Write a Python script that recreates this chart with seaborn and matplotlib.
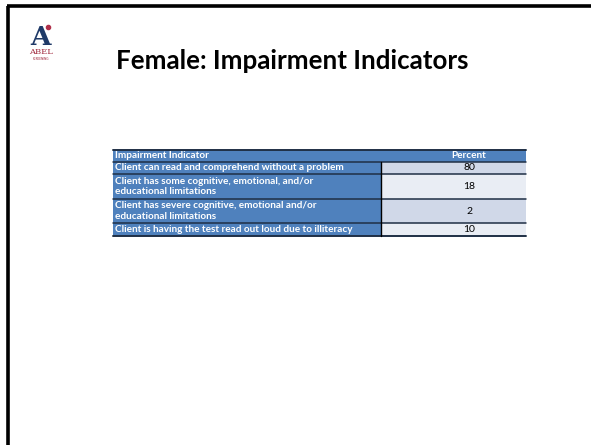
import matplotlib
matplotlib.use("Agg")
import matplotlib.pyplot as plt
from matplotlib.patches import Rectangle
import numpy as np
import seaborn as sns

# ---- data ----
title = "Female: Impairment Indicators"
header = ["Impairment Indicator", "Percent"]
indicators = [
    "Client can read and comprehend without a problem",
    "Client has some cognitive, emotional, and/or\neducational limitations",
    "Client has severe cognitive, emotional and/or\neducational limitations",
    "Client is having the test read out loud due to illiteracy",
]
percent = [80, 18, 2, 10]

sns.set_theme(style="white")
plt.rcParams["font.family"] = ["Lato", "DejaVu Sans"]

W, H = 591, 445
fig = plt.figure(figsize=(W / 100, H / 100), dpi=100)
ax = fig.add_axes([0, 0, 1, 1])
ax.set_xlim(0, W)
ax.set_ylim(H, 0)
ax.axis("off")

# slide frame (top and left edges)
ax.plot([7, W], [6, 6], color="black", lw=2.6, solid_capstyle="butt")
ax.plot([8, 8], [6, H], color="black", lw=2.6, solid_capstyle="butt")

# logo
ax.text(41, 45, "A", fontsize=19, fontweight="bold", family="DejaVu Serif",
        color="#1f3a68", ha="center", va="baseline")
ax.plot([48], [27], "o", color="#b0304a", ms=3)
ax.text(41, 52.5, "ABEL", fontsize=6, family="DejaVu Serif", color="#a0283c",
        ha="center", va="center")
ax.text(41, 59, "SCREENING", fontsize=2.2, color="#a0283c", ha="center", va="center")

# title
ax.text(116, 61, title, fontsize=18.6, fontweight="bold", color="black",
        ha="left", va="center")

# table layout
x0, xs, x1 = 113, 381, 526
y0 = 149.5
unit = 12.3
lines = [1] + [s.count("\n") + 1 for s in indicators]
heights = np.array(lines) * unit
tops = y0 + np.concatenate([[0], np.cumsum(heights)[:-1]])

blue = "#4f81bd"
val_cols = ["#d0d8e8", "#e9edf4", "#d0d8e8", "#e9edf4"]
fs = 7.2

for i, (top, h) in enumerate(zip(tops, heights)):
    if i == 0:
        ax.add_patch(Rectangle((x0, top), x1 - x0, h, fc=blue, ec="none"))
        ax.text(x0 + 2, top + h / 2, header[0], fontsize=fs, fontweight="bold",
                color="white", ha="left", va="center")
        ax.text(469, top + h / 2, header[1], fontsize=fs, fontweight="bold",
                color="white", ha="center", va="center")
    else:
        ax.add_patch(Rectangle((x0, top), xs - x0, h, fc=blue, ec="none"))
        ax.add_patch(Rectangle((xs, top), x1 - xs, h, fc=val_cols[i - 1], ec="none"))
        ax.text(x0 + 2, top + h / 2, indicators[i - 1], fontsize=fs, fontweight="bold",
                color="white", ha="left", va="center", linespacing=1.15)
        ax.text(469, top + h / 2, str(percent[i - 1]), fontsize=fs + 0.3,
                color="black", ha="center", va="center")

# grid lines
bounds = list(tops) + [tops[-1] + heights[-1]]
for j, yb in enumerate(bounds):
    lw = 1.4 if j in (0, len(bounds) - 1) else 1.1
    ax.plot([x0, x1], [yb, yb], color="#1f2f45", lw=lw)
ax.plot([xs, xs], [tops[1], bounds[-1]], color="black", lw=1.0)

fig.savefig("out.png", dpi=100)
